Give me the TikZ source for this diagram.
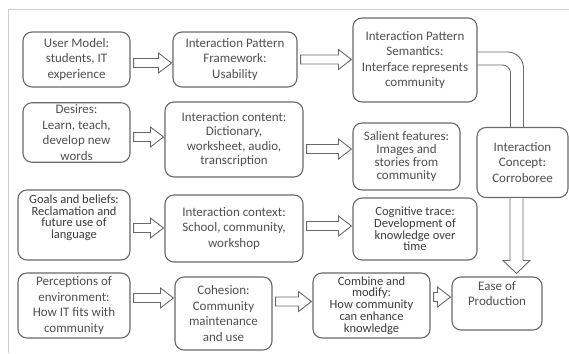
\documentclass[tikz,border=0pt]{standalone}
\usepackage{fontspec}
\setmainfont{Carlito}
\usetikzlibrary{calc, positioning}
\definecolor{boxgray}{RGB}{105, 105, 105}
\definecolor{txtgray}{RGB}{80, 80, 80}
\definecolor{txtdark}{RGB}{60, 60, 60}
\definecolor{framegray}{RGB}{205, 205, 205}
\tikzset{
  mainbox/.style={
    rectangle, rounded corners=9pt,
    draw=boxgray, line width=1.1pt, fill=white,
    align=center, inner sep=2pt, text=txtgray,
    font=\fontsize{13}{15.5}\selectfont
  },
  tightbox/.style={
    mainbox, text=txtdark,
    font=\fontsize{12.5}{11.8}\selectfont
  },
  blockarrow/.style={
    draw=boxgray, fill=white, line width=0.9pt, line join=miter
  },
  shaftline/.style={
    draw=boxgray, line width=0.9pt
  }
}

\begin{document}
\begin{tikzpicture}[x=1pt, y=-1pt]
  \useasboundingbox (0,0) rectangle (569,353);

  % ── slide frame ───────────────────────────────────────
  \draw[framegray, line width=0.6pt] (8,353) -- (8,9) -- (569,9);

  % ── Row 1 ─────────────────────────────────────────────
  \node[mainbox, minimum width=107, minimum height=55] (umodel) at (76.5,59.5)
    {User Model:\\students, IT\\experience};
  \node[mainbox, minimum width=124, minimum height=55] (ipframe) at (235,59.5)
    {Interaction Pattern\\Framework:\\Usability};
  \node[mainbox, minimum width=124, minimum height=84] (ipsem) at (415,60)
    {Interaction Pattern\\Semantics:\\Interface represents\\community};

  % ── Row 2 ─────────────────────────────────────────────
  \node[mainbox, minimum width=107, minimum height=49] (desires) at (76.5,132.5)
    {Desires:\\Learn, teach,\\develop new\\words};
  \node[mainbox, minimum width=138, minimum height=75,
        font=\fontsize{13}{14.5}\selectfont] (icontent) at (234,139.5)
    {Interaction content:\\Dictionary,\\worksheet, audio,\\transcription};
  \node[mainbox, minimum width=107, minimum height=67,
        font=\fontsize{13}{13}\selectfont] (salient) at (406.5,156.5)
    {Salient features:\\Images and\\stories from\\community};
  \node[mainbox, minimum width=91, minimum height=70] (iconcept) at (522.5,162.5)
    {Interaction\\Concept:\\Corroboree};

  % ── Row 3 ─────────────────────────────────────────────
  \node[tightbox, minimum width=112, minimum height=70] (goals) at (74,225)
    {Goals and beliefs:\\Reclamation and\\future use of\\language\\[5pt]};
  \node[mainbox, minimum width=138, minimum height=67] (icontext) at (234,228.5)
    {Interaction context:\\School, community,\\workshop};
  \node[tightbox, minimum width=124, minimum height=62] (cogtrace) at (415,229)
    {Cognitive trace:\\Development of\\knowledge over\\time};

  % ── Row 4 ─────────────────────────────────────────────
  \node[mainbox, minimum width=112, minimum height=65] (percep) at (74,305.5)
    {Perceptions of\\environment:\\How IT fits with\\community};
  \node[mainbox, minimum width=97, minimum height=73] (cohesion) at (223.5,313.5)
    {Cohesion:\\Community\\maintenance\\and use};
  \node[tightbox, minimum width=117, minimum height=65] (combine) at (371.5,305.5)
    {Combine and\\modify:\\How community\\can enhance\\knowledge};
  \node[mainbox, minimum width=90, minimum height=53] (ease) at (497,303.5)
    {Ease of\\Production\\[4pt]};

  % ── Arrows: horizontal block arrows ───────────────────
  \foreach \a/\b/\dy in {umodel/ipframe/3.5, ipframe/ipsem/0,
                         desires/icontent/4.5, icontent/salient/9.5,
                         goals/icontext/3, icontext/cogtrace/-2.5,
                         percep/cohesion/-7.5, cohesion/combine/-12,
                         combine/ease/-8.5}{
    \coordinate (hs) at ($(\a.east)+(0,\dy)$);
    \coordinate (he) at (hs -| \b.west);
    \draw[blockarrow]
      ($(hs)+(3,-4.5)$) -- ($(he)+(-14,-4.5)$) -- ($(he)+(-14,-10)$)
      -- ($(he)+(-1,0)$) -- ($(he)+(-14,10)$) -- ($(he)+(-14,4.5)$)
      -- ($(hs)+(3,4.5)$) -- cycle;
  }

  % ── Arrow: semantics bends down to concept ────────────
  \coordinate (semout) at ($(ipsem.east)+(0,-1.5)$);
  \draw[shaftline, rounded corners=16]
    ($(semout)+(0,-6.5)$) -| ($(iconcept.north)+(1,0)$);
  \draw[shaftline, rounded corners=8]
    ($(semout)+(0,6.5)$) -| ($(iconcept.north)+(-12,0)$);

  % ── Arrow: concept down to ease of production ─────────
  \coordinate (vs) at ($(iconcept.south)+(-6,0)$);
  \coordinate (ve) at (vs |- ease.north);
  \draw[blockarrow]
    ($(vs)+(-6.5,0)$) -- ($(ve)+(-6.5,-16)$) -- ($(ve)+(-13.5,-16)$)
    -- ($(ve)+(0,-3)$) -- ($(ve)+(13.5,-16)$) -- ($(ve)+(6.5,-16)$)
    -- ($(vs)+(6.5,0)$);

\end{tikzpicture}
\end{document}
